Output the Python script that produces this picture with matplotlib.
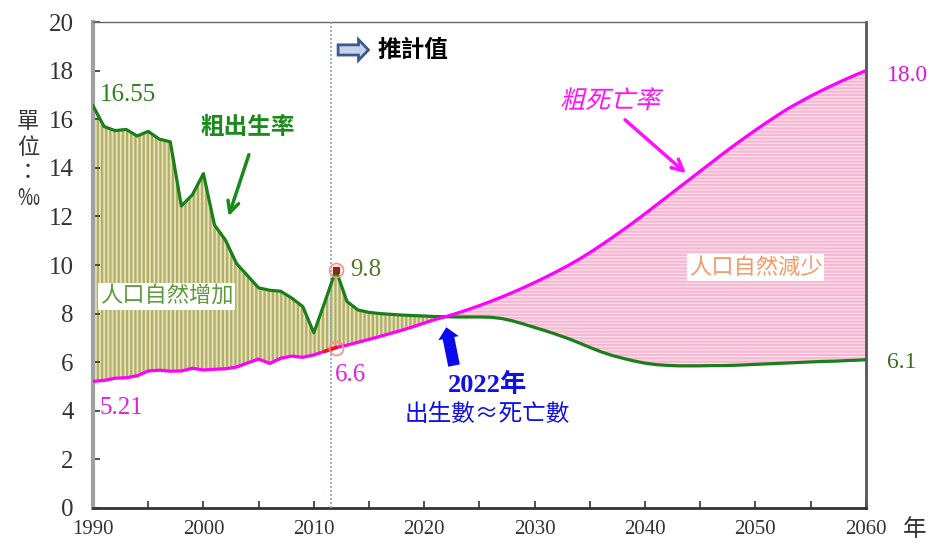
import matplotlib
matplotlib.use("Agg")
import matplotlib.pyplot as plt
import matplotlib.transforms as mtransforms
from matplotlib.patches import FancyArrow, PathPatch
from matplotlib.textpath import TextPath
from matplotlib.font_manager import FontProperties
from matplotlib.ticker import MultipleLocator
import numpy as np

plt.rcParams['font.family'] = ['Liberation Serif', 'Noto Sans CJK TC', 'DejaVu Sans']
plt.rcParams['hatch.linewidth'] = 1.6

# 粗出生率、粗死亡率 (‰)，1990-2012 實際值，2013 以後推計
years = np.arange(1990, 2061)
birth = [16.55, 15.70, 15.53, 15.58, 15.31, 15.50, 15.18, 15.07, 12.43, 12.89,
         13.76, 11.65, 11.02, 10.06, 9.56, 9.06, 8.96, 8.92, 8.64, 8.29,
         7.21, 8.48, 9.80, 8.50, 8.15, 8.05, 8.00, 7.97, 7.94, 7.92,
         7.90, 7.88, 7.87, 7.86, 7.86, 7.86, 7.85, 7.80, 7.70, 7.57,
         7.43, 7.29, 7.14, 6.98, 6.80, 6.61, 6.43, 6.28, 6.16, 6.05,
         5.96, 5.90, 5.87, 5.85, 5.85, 5.85, 5.86, 5.86, 5.87, 5.89,
         5.91, 5.93, 5.95, 5.97, 5.99, 6.01, 6.03, 6.04, 6.06, 6.08,
         6.10]
death = [5.21, 5.25, 5.34, 5.36, 5.44, 5.64, 5.67, 5.63, 5.64, 5.75,
         5.68, 5.71, 5.73, 5.80, 5.97, 6.13, 5.95, 6.16, 6.25, 6.20,
         6.30, 6.45, 6.60, 6.70, 6.82, 6.94, 7.06, 7.19, 7.32, 7.46,
         7.61, 7.76, 7.88, 8.02, 8.17, 8.33, 8.50, 8.68, 8.87, 9.07,
         9.28, 9.50, 9.73, 9.97, 10.23, 10.51, 10.81, 11.12, 11.44, 11.77,
         12.11, 12.46, 12.81, 13.16, 13.51, 13.86, 14.21, 14.56, 14.90, 15.23,
         15.55, 15.86, 16.16, 16.45, 16.70, 16.95, 17.18, 17.40, 17.61, 17.81,
         18.00]
birth = np.array(birth)
death = np.array(death)

est_start = 2011.55   # 推計值分隔線

fig = plt.figure(figsize=(9.32, 5.46), dpi=100)
ax = fig.add_axes([0.0998, 0.0696, 0.8292, 0.8901])

# 人口自然增加 / 減少 的填色
ax.fill_between(years, birth, death, where=birth >= death, interpolate=True,
                facecolor='#e4e2b6', edgecolor='#b2ae6a', hatch='||||', linewidth=0)
ax.fill_between(years, birth, death, where=birth <= death, interpolate=True,
                facecolor='#fde6ef', edgecolor='#f9b6d2', hatch='-----', linewidth=0)

ax.plot(years, birth, color='#1a7f1a', lw=2.3, zorder=4)
ax.plot(years, death, color='#ff00ff', lw=2.3, zorder=4)
ax.plot(years[21:23], death[21:23], color='#ff1010', lw=2.5, zorder=5)

# 2012 年標記
i12 = 2012 - 1990
ax.plot([2012], [birth[i12]], 's', ms=4, color='#8b2a10', zorder=6)
ax.plot([2012, 2012], [birth[i12], death[i12]], 'o', ms=10, mfc='none',
        mec='#ff8c8c', mew=1.2, zorder=6)

ax.axvline(est_start, color='#7ea6dc', lw=1.2, ls=(0, (1.2, 1.2)), zorder=3)

ax.set_xlim(1990, 2060)
ax.set_ylim(0, 20)
ax.xaxis.set_major_locator(MultipleLocator(10))
ax.xaxis.set_minor_locator(MultipleLocator(5))
ax.yaxis.set_major_locator(MultipleLocator(2))
ax.tick_params(axis='both', which='both', direction='in', color='#333333',
               length=5, width=1.2)
ax.tick_params(axis='y', labelsize=18, pad=14, labelcolor='#333333')
ax.tick_params(axis='x', labelsize=15, pad=9, labelcolor='#333333')
ax.tick_params(top=False, right=False)

ax.spines['left'].set_color('#a0a0a0')
ax.spines['left'].set_linewidth(3)
ax.spines['bottom'].set_color('#333333')
ax.spines['bottom'].set_linewidth(2)
ax.spines['right'].set_color('#555555')
ax.spines['right'].set_linewidth(2)
ax.spines['top'].set_color('#666666')
ax.spines['top'].set_linewidth(1)

cjk = ['Noto Sans CJK TC', 'DejaVu Sans']
serif_cjk = ['Liberation Serif', 'Noto Sans CJK TC']

# 數值標註
ax.text(1990.6, 17.0, '16.55', color='#2e7d1e', fontsize=18, va='center', ha='left')
ax.text(1990.6, 4.12, '5.21', color='#e020e0', fontsize=18, va='center', ha='left')
ax.text(2013.3, 9.79, '9.8', color='#4f7a28', fontsize=18, va='center', ha='left')
ax.text(2011.9, 5.47, '6.6', color='#e020e0', fontsize=18, va='center', ha='left')
ax.text(2061.9, 17.8, '18.0', color='#d81bd8', fontsize=17, va='center', ha='left',
        clip_on=False)
ax.text(2061.9, 6.0, '6.1', color='#3a6e1e', fontsize=17, va='center', ha='left',
        clip_on=False)

# 說明文字
ax.text(2004.0, 15.68, '粗出生率', family=cjk, color='#1a8a1a', fontsize=17,
        fontweight='bold', ha='center', va='center')
ax.annotate('', xy=(2002.2, 11.9), xytext=(2004.2, 14.65),
            arrowprops=dict(arrowstyle='->,head_length=0.8,head_width=0.4',
                            color='#1a8a1a', lw=2.5))
ax.text(1990.6, 8.72, '人口自然增加', family=cjk, color='#5c9a3c', fontsize=16,
        ha='left', va='center', zorder=7,
        bbox=dict(facecolor='white', edgecolor='none', pad=1.5))
ax.text(2050.0, 9.88, '人口自然減少', family=cjk, color='#f39a6b', fontsize=16,
        ha='center', va='center', zorder=7,
        bbox=dict(facecolor='white', edgecolor='none', pad=1.5))

ax.text(2025.7, 5.06, '2022年', family=serif_cjk, color='#1010e8', fontsize=19,
        fontweight='bold', ha='center', va='center')
ax.text(2025.7, 3.83, '出生數≈死亡數', family=cjk, color='#1010e8', fontsize=17,
        ha='center', va='center')
ax.annotate('', xy=(2021.95, 7.55), xytext=(2022.75, 5.75),
            arrowprops=dict(arrowstyle='simple,head_length=0.8,head_width=1.5,tail_width=0.85',
                            color='#0a0aee', lw=0))

# 推計值 箭頭
ax.add_patch(FancyArrow(2012.2, 18.85, 2.75, 0, width=0.42, head_width=0.85,
                        head_length=0.9, length_includes_head=True,
                        facecolor='#c6d2ea', edgecolor='#3b5b8e', lw=2, zorder=6))
ax.text(2015.8, 18.85, '推計值', family=cjk, color='black', fontsize=17,
        fontweight='bold', ha='left', va='center')

# 粗死亡率（斜體）
fp = FontProperties(family='Noto Sans CJK TC')
tp = TextPath((0, 0), '粗死亡率', size=18, prop=fp)
skew = (mtransforms.Affine2D().skew_deg(14, 0).scale(fig.dpi / 72)
        + mtransforms.ScaledTranslation(2032.3, 16.45, ax.transData))
ax.add_patch(PathPatch(tp, transform=skew, facecolor='#ff10ff',
                       edgecolor='none', zorder=7))
ax.annotate('', xy=(2043.9, 13.7), xytext=(2038.0, 16.05),
            arrowprops=dict(arrowstyle='->,head_length=0.8,head_width=0.4',
                            color='#ff10ff', lw=2.5))

# 單位
fig.text(28 / 932, 1 - 160 / 546, '單\n位\n：\n‰', family=cjk, fontsize=16,
         color='#333333', ha='center', va='center', linespacing=1.15)
fig.text(915 / 932, 1 - 530 / 546, '年', family=cjk, fontsize=17,
         color='#333333', ha='center', va='center')

fig.savefig('out.png', dpi=100)
